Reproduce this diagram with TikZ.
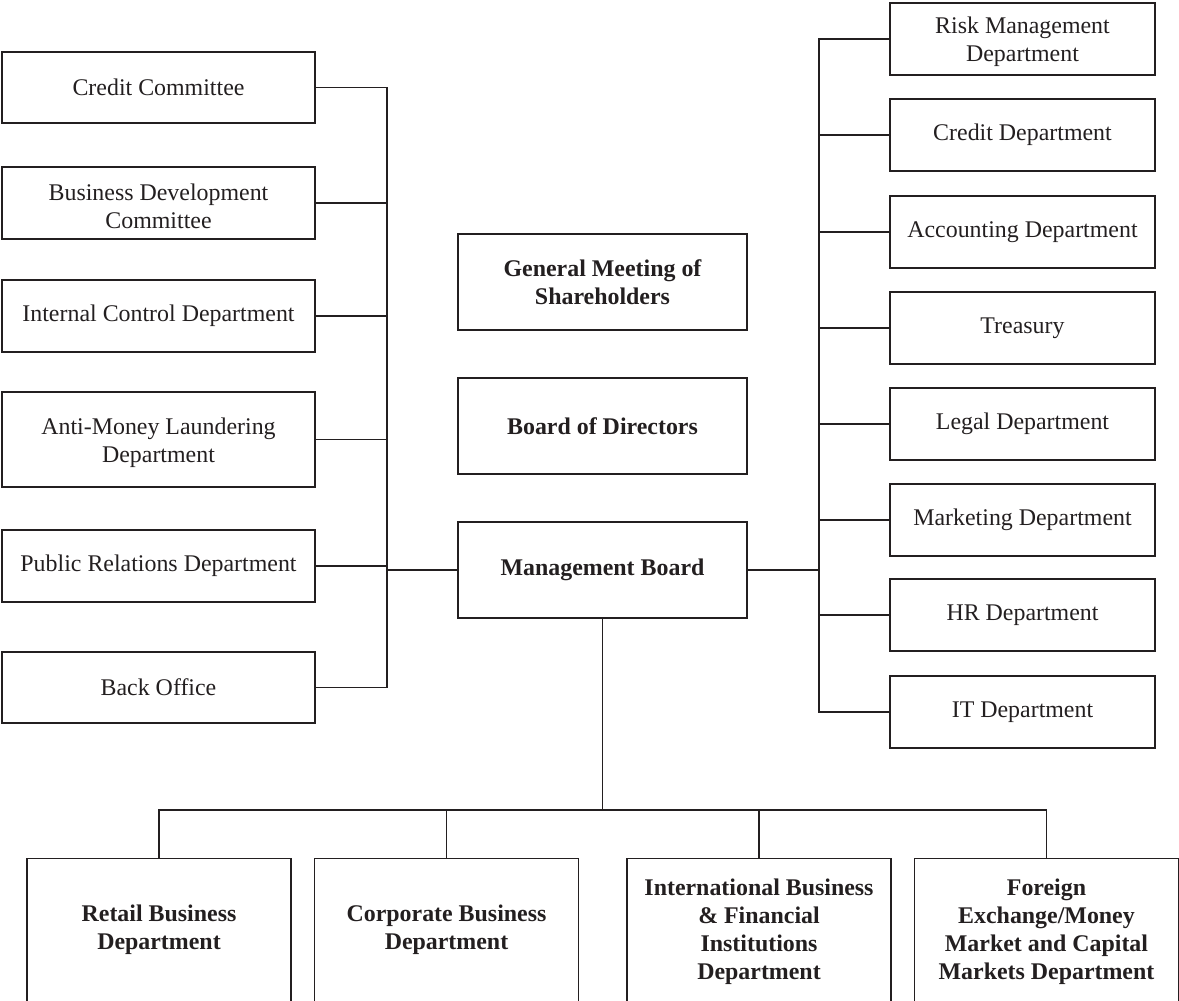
\documentclass[tikz,border=0pt]{standalone}
\usepackage{fontspec}
\setmainfont{Liberation Serif}
\definecolor{ink}{HTML}{231F20}
\begin{document}
\begin{tikzpicture}[x=1pt,y=-1pt,
  every node/.style={font=\fontsize{23.9}{28}\selectfont, text=ink},
  box/.style={draw=ink, line width=1.4pt, rectangle, inner sep=0pt, align=center},
  lbox/.style={box, minimum width=313pt},
  rbox/.style={box, minimum width=265pt, minimum height=72pt},
  cbox/.style={box, minimum width=289pt, minimum height=96pt, font=\fontsize{23.9}{28}\selectfont\bfseries},
  twoline/.style={label={[align=center, inner sep=0pt, yshift=-3pt]center:{#1}}},
  bframe/.style={draw=ink, line width=1.4pt, rectangle, minimum width=264pt, minimum height=200pt, anchor=north, inner sep=0pt},
  btext/.style={align=center, font=\fontsize{23.9}{28}\selectfont\bfseries, inner sep=0pt},
  wire/.style={draw=ink, line width=1.4pt}]
\useasboundingbox (0,0) rectangle (1179,1001);
\clip (0,0) rectangle (1179,1001);

% left column
\node[lbox, minimum height=71pt] (cc) at (158.5,87.5) {Credit Committee};
\node[lbox, minimum height=72pt, twoline={Business Development\\Committee}] (bd) at (158.5,203) {};
\node[lbox, minimum height=72pt] (ic) at (158.5,316) {Internal Control Department};
\node[lbox, minimum height=95pt, twoline={Anti-Money Laundering\\Department}] (am) at (158.5,439.5) {};
\node[lbox, minimum height=72pt] (pr) at (158.5,566) {Public Relations Department};
\node[lbox, minimum height=71pt] (bo) at (158.5,687.5) {Back Office};

% right column
\node[rbox, twoline={Risk Management\\Department}] (risk) at (1022.5,39) {};
\node[rbox] (cred) at (1022.5,135) {Credit Department};
\node[rbox] (acc) at (1022.5,232) {Accounting Department};
\node[rbox] (tre) at (1022.5,328) {Treasury};
\node[rbox] (leg) at (1022.5,424) {Legal Department};
\node[rbox] (mkt) at (1022.5,520) {Marketing Department};
\node[rbox] (hr) at (1022.5,615) {HR Department};
\node[rbox] (it) at (1022.5,712) {IT Department};

% centre column
\node[cbox] (gm) at (602.5,282) {General Meeting of\\Shareholders};
\node[cbox] (bod) at (602.5,426) {Board of Directors};
\node[cbox] (mb) at (602.5,570) {Management Board};

% bottom row
\node[bframe] (retailF) at (159,858) {};
\node[bframe] (corpF) at (446.5,858) {};
\node[bframe] (intlF) at (759,858) {};
\node[bframe] (forF) at (1046.5,858) {};
\node[btext] (retail) at (159,930) {Retail Business\\Department};
\node[btext] (corp) at (446.5,930) {Corporate Business\\Department};
\node[btext] (intl) at (759,931.5) {International Business\\\& Financial\\Institutions\\Department};
\node[btext] (forx) at (1046.5,931.5) {Foreign\\Exchange/Money\\Market and Capital\\Markets Department};

% buses
\coordinate (lbus) at (387,0);
\coordinate (rbus) at (819,0);
\coordinate (hbus) at (0,810);

\draw[wire] (cc.east) -- (cc.east -| lbus) -- (bo.east -| lbus) -- (bo.east);
\foreach \n in {bd,ic,am,pr}{\draw[wire] (\n.east) -- (\n.east -| lbus);}
\draw[wire] (mb.west) -- (mb.west -| lbus);

\draw[wire] (risk.west) -- (risk.west -| rbus) -- (it.west -| rbus) -- (it.west);
\foreach \n in {cred,acc,tre,leg,mkt,hr}{\draw[wire] (\n.west) -- (\n.west -| rbus);}
\draw[wire] (mb.east) -- (mb.east -| rbus);

\draw[wire] (mb.south) -- (mb.south |- hbus);
\draw[wire] (retailF.north) -- (retailF.north |- hbus) -- (forF.north |- hbus) -- (forF.north);
\draw[wire] (corpF.north) -- (corpF.north |- hbus);
\draw[wire] (intlF.north) -- (intlF.north |- hbus);
\end{tikzpicture}
\end{document}
